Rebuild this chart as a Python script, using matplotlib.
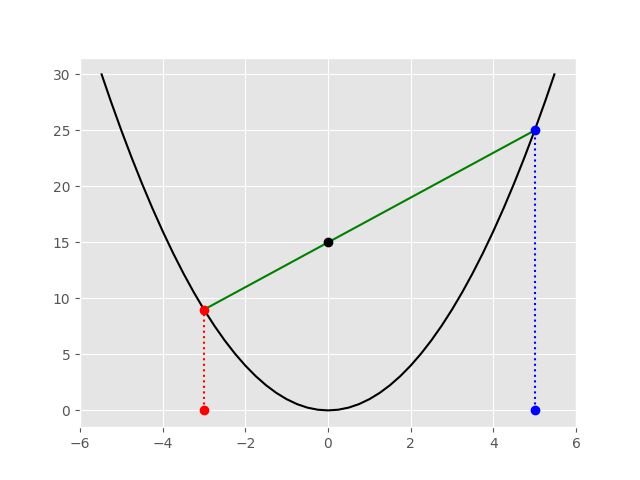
import matplotlib
matplotlib.use("Agg")
import matplotlib.pyplot as plt

plt.style.use("ggplot")

curve_x = [-5.477, -5.25, -5.0, -4.75, -4.5, -4.25, -4.0, -3.75, -3.5, -3.25, -3.0,
           -2.75, -2.5, -2.25, -2.0, -1.75, -1.5, -1.25, -1.0, -0.75, -0.5, -0.25, 0.0,
           0.25, 0.5, 0.75, 1.0, 1.25, 1.5, 1.75, 2.0, 2.25, 2.5, 2.75, 3.0, 3.25, 3.5,
           3.75, 4.0, 4.25, 4.5, 4.75, 5.0, 5.25, 5.477]
curve_y = [30.0, 27.5625, 25.0, 22.5625, 20.25, 18.0625, 16.0, 14.0625, 12.25, 10.5625, 9.0,
           7.5625, 6.25, 5.0625, 4.0, 3.0625, 2.25, 1.5625, 1.0, 0.5625, 0.25, 0.0625, 0.0,
           0.0625, 0.25, 0.5625, 1.0, 1.5625, 2.25, 3.0625, 4.0, 5.0625, 6.25, 7.5625, 9.0,
           10.5625, 12.25, 14.0625, 16.0, 18.0625, 20.25, 22.5625, 25.0, 27.5625, 30.0]

left_pt = (-3, 9)
right_pt = (5, 25)
mid_pt = (0, 15)

fig, ax = plt.subplots(figsize=(6.4, 4.8), dpi=100)
ax.plot(curve_x, curve_y, color="black")
ax.plot([left_pt[0], right_pt[0]], [left_pt[1], right_pt[1]], color="green")
ax.plot([left_pt[0], left_pt[0]], [0, left_pt[1]], color="red", linestyle=":", marker="o")
ax.plot([right_pt[0], right_pt[0]], [0, right_pt[1]], color="blue", linestyle=":", marker="o")
ax.plot([mid_pt[0]], [mid_pt[1]], "ko")
ax.set_xlim(-6, 6)
fig.savefig("out.png")
